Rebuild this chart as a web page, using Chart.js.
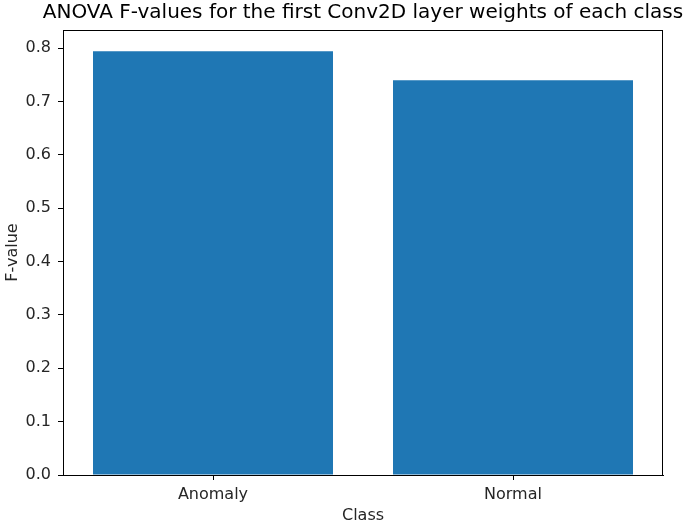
<!DOCTYPE html>
<html>
<head>
<meta charset="utf-8">
<script src="https://cdn.jsdelivr.net/npm/chart.js@4/dist/chart.umd.min.js"></script>
<style>
  html, body { margin: 0; padding: 0; background: #fff; }
  #wrap { width: 685px; height: 525px; }
</style>
</head>
<body>
<div id="wrap"><canvas id="fChart" width="685" height="525"></canvas></div>
<script>
// Data
const classes = ['Anomaly', 'Normal'];
const fValues = [0.794, 0.740];
const yTicks = [0.0, 0.1, 0.2, 0.3, 0.4, 0.5, 0.6, 0.7, 0.8];
const chartTitle = 'ANOVA F-values for the first Conv2D layer weights of each class';

const FONT = 'DejaVu Sans';
const INK = '#262626';

// matplotlib draws a box round the axes, Chart.js only draws left/bottom.
// The title is centred on the axes and may run past them, so draw it here too.
const frame = {
  id: 'frame',
  afterDraw(chart) {
    const { ctx, chartArea: a } = chart;
    ctx.save();
    ctx.strokeStyle = '#000';
    ctx.lineWidth = 1;
    ctx.strokeRect(a.left + 0.5, a.top + 0.5, a.right - a.left - 1, a.bottom - a.top);
    ctx.fillStyle = '#000';
    ctx.font = `20px "${FONT}"`;
    ctx.textAlign = 'center';
    ctx.textBaseline = 'alphabetic';
    ctx.fillText(chartTitle, (a.left + a.right) / 2, a.top - 12);
    ctx.restore();
  }
};

const ctx = document.getElementById('fChart').getContext('2d');
new Chart(ctx, {
  type: 'bar',
  data: {
    labels: classes,
    datasets: [{
      label: 'F-value',
      data: fValues,
      backgroundColor: '#1f77b4',
      borderWidth: 0,
      barPercentage: 0.8,
      categoryPercentage: 1.0,
    }],
  },
  options: {
    responsive: false,
    animation: false,
    layout: { padding: { left: 0, right: 22, top: 30, bottom: 0 } },
    plugins: {
      legend: { display: false },
      tooltip: { enabled: false },
      title: { display: false },
    },
    scales: {
      x: {
        offset: true,
        grid: { display: true, drawOnChartArea: false, tickLength: 5, tickColor: '#000', offset: false },
        border: { color: '#000' },
        ticks: { color: INK, font: { family: FONT, size: 16 }, padding: 5 },
        title: { display: true, text: 'Class', color: INK, font: { family: FONT, size: 16 }, padding: { top: 0, bottom: 0 } },
        afterFit(scale) { scale.height = 50; },
      },
      y: {
        min: 0,
        max: 0.834,
        afterBuildTicks(scale) { scale.ticks = yTicks.map(v => ({ value: v })); },
        grid: { display: true, drawOnChartArea: false, tickLength: 5, tickColor: '#000' },
        border: { color: '#000' },
        ticks: { color: INK, font: { family: FONT, size: 16 }, padding: 7, callback: v => v.toFixed(1) },
        title: { display: true, text: 'F-value', color: INK, font: { family: FONT, size: 16 }, padding: { top: 3, bottom: 4 } },
        afterFit(scale) { scale.width = 63; },
      },
    },
  },
  plugins: [frame],
});
</script>
</body>
</html>
